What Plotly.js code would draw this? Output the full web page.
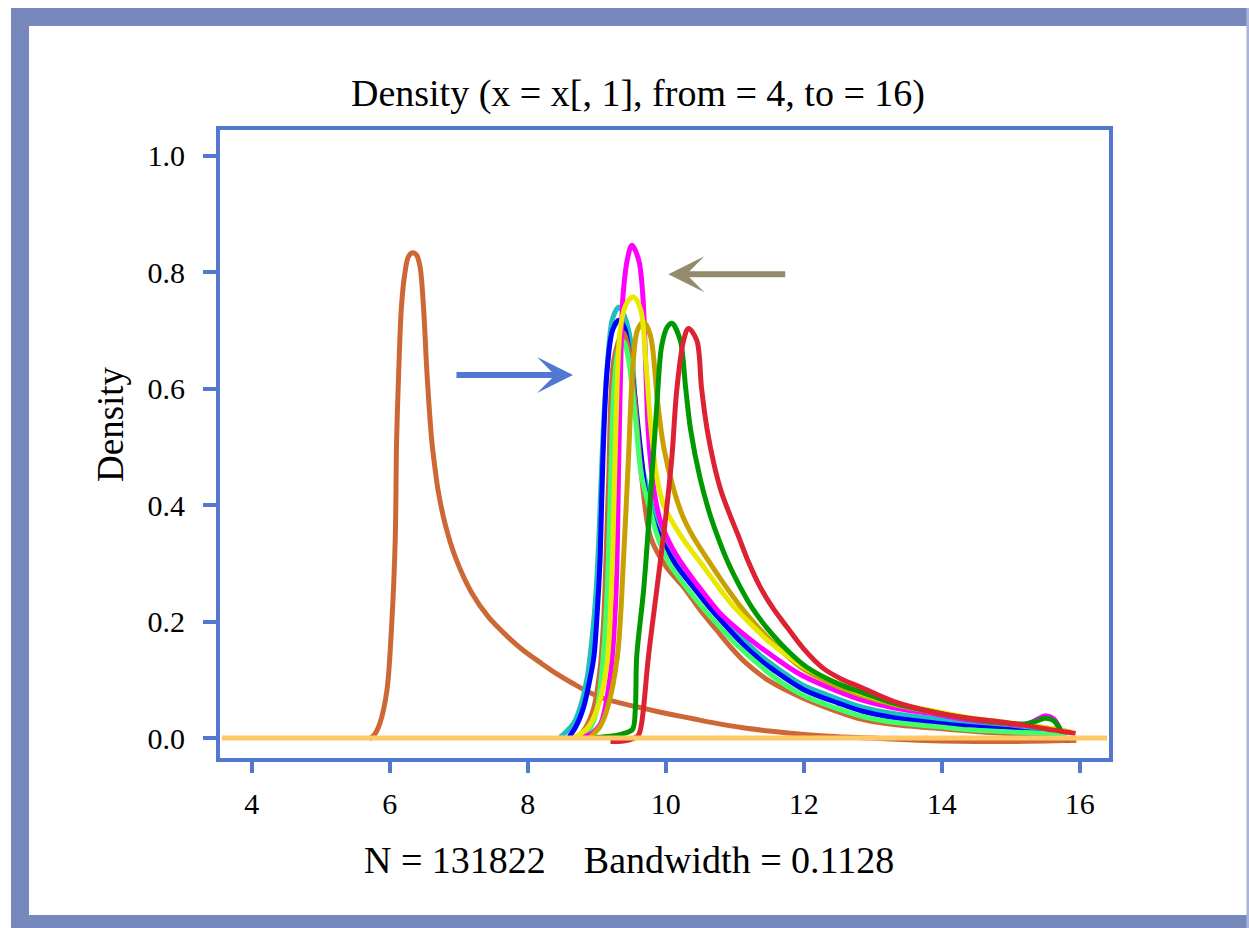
<!DOCTYPE html>
<html>
<head>
<meta charset="utf-8">
<script src="https://cdn.plot.ly/plotly-3.0.1.min.js"></script>
<style>
  html, body { margin: 0; padding: 0; background: #ffffff; }
  #chart { width: 1249px; height: 928px; }
</style>
</head>
<body>
<div id="chart"></div>
<script>
// ---------------- data ----------------
const xTicks = [4, 6, 8, 10, 12, 14, 16];
const yTicks = [0, 0.2, 0.4, 0.6, 0.8, 1.0];
const yTickText = ["0.0", "0.2", "0.4", "0.6", "0.8", "1.0"];

const titleText = "Density (x = x[, 1], from = 4, to = 16)";
const xTitleText = "N = 131822\u00a0\u00a0\u00a0\u00a0Bandwidth = 0.1128";
const yTitleText = "Density";

const orange1X = [5.70, 5.78, 5.86, 5.96, 6.03, 6.08, 6.10, 6.13, 6.17, 6.22, 6.27, 6.33, 6.39, 6.44, 6.49, 6.54, 6.61, 6.66, 6.70, 6.80, 6.95, 7.19, 7.43, 7.70, 7.93, 8.20, 8.41, 8.65, 8.88, 9.10, 9.38, 9.64, 9.86, 10.1, 10.4, 10.7, 11.1, 11.5, 12.0, 12.5, 13.0, 13.5, 14.0, 14.5, 15.0, 15.5, 15.95];
const orange1Y = [-0.002, 0.006, 0.026, 0.082, 0.197, 0.34, 0.51, 0.627, 0.74, 0.798, 0.826, 0.833, 0.829, 0.809, 0.74, 0.627, 0.51, 0.46, 0.426, 0.369, 0.311, 0.249, 0.208, 0.175, 0.151, 0.128, 0.111, 0.094, 0.079, 0.068, 0.059, 0.052, 0.046, 0.040, 0.033, 0.026, 0.018, 0.012, 0.006, 0.002, 0.000, -0.003, -0.005, -0.006, -0.006, -0.005, -0.004];

const cyanX = [8.47, 8.55, 8.67, 8.78, 8.87, 8.94, 8.99, 9.03, 9.06, 9.10, 9.16, 9.23, 9.32, 9.40, 9.49, 9.58, 9.67, 9.75, 9.92, 10.15, 10.4, 10.65, 10.89, 11.12, 11.37, 11.7, 12.0, 12.5, 12.85, 13.3, 13.9, 14.4, 14.9, 15.3, 15.6, 15.82];
const cyanY = [0.002, 0.010, 0.026, 0.060, 0.11, 0.18, 0.25, 0.34, 0.43, 0.54, 0.65, 0.72, 0.74, 0.725, 0.683, 0.54, 0.46, 0.42, 0.352, 0.302, 0.265, 0.228, 0.198, 0.170, 0.142, 0.113, 0.090, 0.067, 0.053, 0.042, 0.033, 0.025, 0.019, 0.014, 0.011, 0.008];

const blueX = [8.60, 8.70, 8.81, 8.90, 8.96, 9.01, 9.05, 9.09, 9.15, 9.23, 9.32, 9.40, 9.47, 9.54, 9.64, 9.73, 9.92, 10.15, 10.4, 10.65, 10.89, 11.12, 11.37, 11.56, 12.0, 12.5, 12.85, 13.3, 13.9, 14.4, 14.9, 15.3, 15.6, 15.85];
const blueY = [0.002, 0.020, 0.053, 0.10, 0.14, 0.22, 0.31, 0.48, 0.63, 0.70, 0.717, 0.705, 0.665, 0.60, 0.49, 0.41, 0.345, 0.297, 0.259, 0.222, 0.19, 0.161, 0.134, 0.117, 0.083, 0.060, 0.046, 0.035, 0.026, 0.020, 0.015, 0.010, 0.006, -0.004];

const orange2X = [8.72, 8.85, 8.96, 9.05, 9.10, 9.17, 9.25, 9.38, 9.46, 9.55, 9.65, 9.78, 10.0, 10.26, 10.5, 10.74, 10.95, 11.17, 11.5, 12.0, 12.5, 12.85, 13.3, 13.9, 14.4, 14.9, 15.3, 15.6, 15.95];
const orange2Y = [0.000, 0.020, 0.053, 0.12, 0.20, 0.43, 0.65, 0.696, 0.67, 0.58, 0.45, 0.345, 0.295, 0.259, 0.220, 0.185, 0.155, 0.128, 0.098, 0.068, 0.045, 0.032, 0.023, 0.017, 0.012, 0.008, 0.005, 0.000, -0.004];

const lightGreenX = [8.80, 8.92, 9.01, 9.08, 9.13, 9.17, 9.20, 9.25, 9.32, 9.39, 9.46, 9.56, 9.65, 9.80, 9.87, 10.05, 10.3, 10.55, 10.79, 11.03, 11.27, 11.6, 12.0, 12.5, 12.85, 13.3, 13.9, 14.4, 14.9, 15.3, 15.6, 15.80];
const lightGreenY = [0.002, 0.020, 0.053, 0.12, 0.20, 0.31, 0.43, 0.60, 0.67, 0.68, 0.65, 0.55, 0.45, 0.38, 0.35, 0.300, 0.259, 0.222, 0.19, 0.160, 0.134, 0.102, 0.073, 0.050, 0.037, 0.027, 0.020, 0.014, 0.011, 0.009, 0.008, 0.007];

const magentaX = [8.77, 8.95, 9.06, 9.20, 9.28, 9.32, 9.35, 9.38, 9.45, 9.51, 9.61, 9.67, 9.71, 9.75, 9.83, 9.92, 10.1, 10.3, 10.55, 10.79, 11.08, 11.37, 11.8, 12.0, 12.5, 12.85, 13.3, 13.9, 14.4, 14.9, 15.14, 15.3, 15.45, 15.52, 15.62, 15.70, 15.72];
const magentaY = [0.000, 0.010, 0.025, 0.11, 0.25, 0.48, 0.65, 0.757, 0.825, 0.846, 0.82, 0.757, 0.64, 0.52, 0.425, 0.374, 0.325, 0.288, 0.249, 0.214, 0.183, 0.156, 0.12, 0.106, 0.080, 0.065, 0.052, 0.041, 0.031, 0.025, 0.022, 0.027, 0.036, 0.038, 0.033, 0.019, 0.012];

const goldX = [8.91, 9.05, 9.16, 9.30, 9.39, 9.46, 9.52, 9.59, 9.68, 9.78, 9.88, 9.97, 10.12, 10.25, 10.4, 10.6, 10.79, 11.07, 11.5, 12.0, 12.5, 12.85, 13.3, 13.9, 14.4, 14.9, 15.3, 15.6, 15.87];
const goldY = [0.002, 0.020, 0.053, 0.14, 0.31, 0.48, 0.63, 0.70, 0.714, 0.69, 0.58, 0.50, 0.425, 0.38, 0.345, 0.308, 0.274, 0.228, 0.17, 0.118, 0.088, 0.073, 0.058, 0.044, 0.034, 0.026, 0.021, 0.016, 0.010];

const yellowX = [8.67, 8.85, 8.96, 9.08, 9.16, 9.23, 9.28, 9.35, 9.45, 9.54, 9.64, 9.71, 9.78, 9.87, 9.97, 10.1, 10.26, 10.48, 10.69, 10.94, 11.17, 11.5, 11.85, 12.0, 12.5, 12.85, 13.3, 13.9, 14.4, 14.9, 15.3, 15.6, 15.87];
const yellowY = [0.000, 0.015, 0.036, 0.08, 0.14, 0.31, 0.54, 0.71, 0.75, 0.757, 0.734, 0.65, 0.54, 0.449, 0.40, 0.37, 0.34, 0.305, 0.271, 0.232, 0.203, 0.165, 0.134, 0.122, 0.093, 0.076, 0.060, 0.046, 0.035, 0.027, 0.021, 0.016, 0.010];

const greenX = [8.98, 9.20, 9.40, 9.52, 9.56, 9.58, 9.68, 9.77, 9.87, 9.94, 10.02, 10.09, 10.21, 10.29, 10.36, 10.5, 10.62, 10.74, 10.9, 11.08, 11.26, 11.46, 11.75, 12.04, 12.5, 12.85, 13.3, 13.9, 14.4, 14.9, 15.2, 15.35, 15.5, 15.62, 15.70, 15.73];
const greenY = [0.001, 0.003, 0.008, 0.015, 0.05, 0.14, 0.254, 0.397, 0.569, 0.672, 0.705, 0.712, 0.683, 0.600, 0.530, 0.445, 0.392, 0.350, 0.302, 0.259, 0.222, 0.19, 0.152, 0.122, 0.093, 0.078, 0.060, 0.044, 0.033, 0.026, 0.024, 0.028, 0.034, 0.030, 0.018, 0.012];

const redX = [9.20, 9.45, 9.60, 9.65, 9.75, 9.87, 9.99, 10.09, 10.16, 10.26, 10.33, 10.45, 10.52, 10.6, 10.7, 10.8, 10.94, 11.05, 11.2, 11.37, 11.56, 11.76, 12.0, 12.28, 12.55, 12.83, 13.3, 13.9, 14.4, 14.9, 15.3, 15.6, 15.94];
const redY = [-0.006, -0.004, 0.004, 0.025, 0.14, 0.254, 0.369, 0.483, 0.597, 0.683, 0.703, 0.683, 0.600, 0.530, 0.470, 0.425, 0.380, 0.348, 0.302, 0.259, 0.222, 0.19, 0.153, 0.12, 0.101, 0.087, 0.063, 0.044, 0.034, 0.027, 0.020, 0.014, 0.008];

// arrows: [tailX, headX, y]
const blueArrow = [6.946, 8.657, 0.623];
const grayArrow = [11.754, 10.038, 0.796];

// ---------------- styling ----------------
const BOX = "#5478d0";
const FRAME = "#7788bd";
const SERIF = "Liberation Serif, Times New Roman, serif";

function tr(x, y, color) {
  return {x: x, y: y, type: "scatter", mode: "lines",
          line: {color: color, width: 5, shape: "spline", smoothing: 0.9},
          hoverinfo: "skip", showlegend: false};
}

const data = [
  tr(orange1X, orange1Y, "#cd6836"),
  tr(cyanX, cyanY, "#1fbfbf"),
  tr(blueX, blueY, "#0000ff"),
  tr(orange2X, orange2Y, "#cd6836"),
  tr(lightGreenX, lightGreenY, "#40ff6a"),
  tr(magentaX, magentaY, "#ff00ff"),
  tr(goldX, goldY, "#c8a000"),
  tr(yellowX, yellowY, "#e8e800"),
  tr(greenX, greenY, "#009a00"),
  tr(redX, redY, "#dc2233")
];

// plot area in pixels
const L = 220, R = 1109, T = 130, B = 758;
const px = v => (v - L) / (R - L);
const py = v => (B - v) / (B - T);

const shapes = [
  {type: "line", xref: "paper", yref: "y", x0: 0.002, x1: 0.998, y0: 0, y1: 0,
   line: {color: "#ffc864", width: 5}, layer: "above"},
  // outer frame
  {type: "rect", xref: "paper", yref: "paper", x0: px(11), x1: px(29), y0: py(928), y1: py(8),
   fillcolor: FRAME, line: {width: 0}, layer: "below"},
  {type: "rect", xref: "paper", yref: "paper", x0: px(11), x1: px(1252), y0: py(26), y1: py(8),
   fillcolor: FRAME, line: {width: 0}, layer: "below"},
  {type: "rect", xref: "paper", yref: "paper", x0: px(11), x1: px(1252), y0: py(928), y1: py(915),
   fillcolor: FRAME, line: {width: 0}, layer: "below"},
  {type: "rect", xref: "paper", yref: "paper", x0: px(1246.5), x1: px(1252), y0: py(928), y1: py(8),
   fillcolor: "#aab4d8", line: {width: 0}, layer: "below"}
];

const annotations = [
  {x: blueArrow[1], y: blueArrow[2], ax: blueArrow[0], ay: blueArrow[2], xref: "x", yref: "y",
   axref: "x", ayref: "y", text: "", showarrow: true, arrowhead: 3, arrowsize: 1,
   arrowwidth: 6, arrowcolor: "#5078d0", standoff: 0},
  {x: grayArrow[1], y: grayArrow[2], ax: grayArrow[0], ay: grayArrow[2], xref: "x", yref: "y",
   axref: "x", ayref: "y", text: "", showarrow: true, arrowhead: 3, arrowsize: 1,
   arrowwidth: 6, arrowcolor: "#948a6c", standoff: 0},
  {text: xTitleText, xref: "paper", yref: "paper", x: px(629), y: py(860),
   xanchor: "center", yanchor: "middle", showarrow: false,
   font: {family: SERIF, size: 38, color: "#000"}},
  {text: yTitleText, xref: "paper", yref: "paper", x: px(110), y: py(424),
   xanchor: "center", yanchor: "middle", showarrow: false, textangle: -90,
   font: {family: SERIF, size: 37, color: "#000"}}
];

const axisCommon = {
  showline: true, linewidth: 4, linecolor: BOX, mirror: true,
  ticks: "outside", tickwidth: 4, tickcolor: BOX,
  showgrid: false, zeroline: false, fixedrange: true,
  tickfont: {family: SERIF, size: 30, color: "#000"}
};

const layout = {
  width: 1249, height: 928,
  margin: {l: L, r: 1249 - R, t: T, b: 928 - B, pad: 0},
  paper_bgcolor: "#ffffff", plot_bgcolor: "#ffffff",
  showlegend: false,
  title: {text: titleText, xref: "container", yref: "container",
          x: 638 / 1249, xanchor: "center", y: 1 - 93 / 928, yanchor: "middle",
          font: {family: SERIF, size: 38, color: "#000"}},
  xaxis: Object.assign({}, axisCommon, {
    range: [3.5406, 16.4246], tickvals: xTicks, ticklen: 11, ticklabelstandoff: 5
  }),
  yaxis: Object.assign({}, axisCommon, {
    range: [-0.0343, 1.0438], tickvals: yTicks, ticktext: yTickText, ticklen: 13, ticklabelstandoff: 12
  }),
  shapes: shapes,
  annotations: annotations
};

Plotly.newPlot("chart", data, layout, {displayModeBar: false, staticPlot: true});
</script>
</body>
</html>
